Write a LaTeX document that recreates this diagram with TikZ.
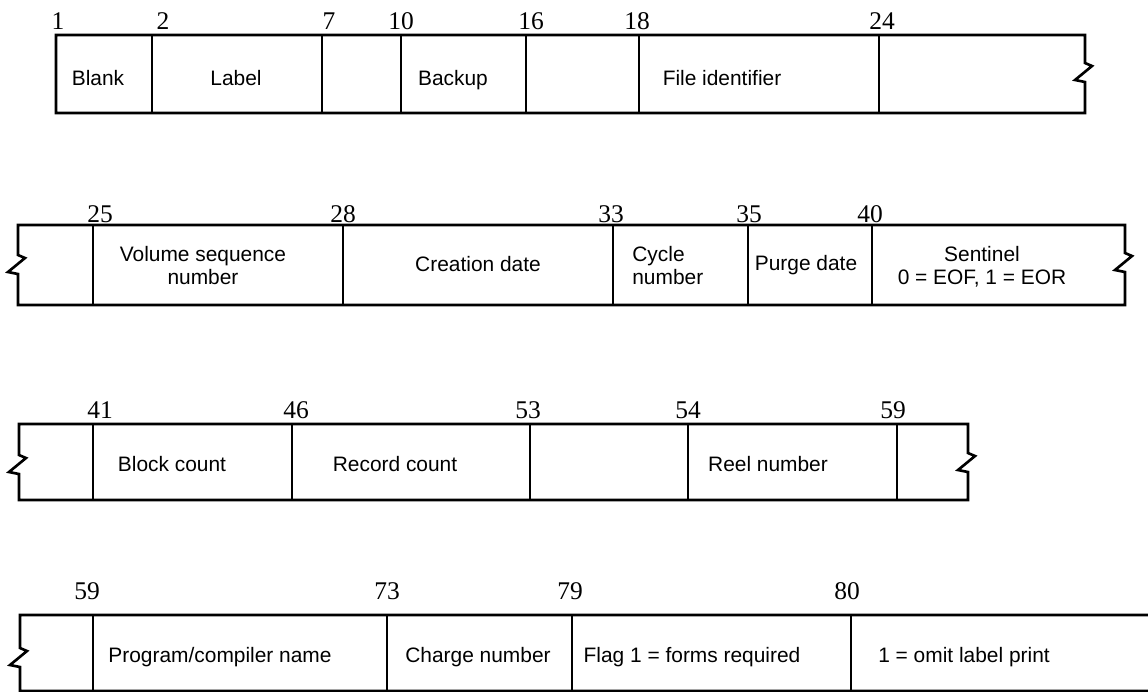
\documentclass[tikz,border=0pt]{standalone}
\usepackage{fontspec}
\setmainfont{Liberation Sans}
\newfontfamily\numfont{Liberation Serif}
\usepackage{tikz}
\usetikzlibrary{positioning}

\begin{document}
\begin{tikzpicture}[
  x=0.02cm, y=-0.02cm,
  outline/.style={line width=1.5pt, line join=miter},
  divider/.style={line width=1.2pt},
  field/.style={font=\fontsize{11.9}{13}\selectfont, align=center, inner sep=0pt, anchor=base},
  colnum/.style={font=\numfont\fontsize{14.5}{14.5}\selectfont, inner sep=0pt, anchor=base}
]
\useasboundingbox (0,0) rectangle (1148,691);

% row 1: columns 1--24
\draw[outline] (56,35) -- (1085,35) -- (1085,63) -- ++(7,3) -- ++(-17,14) -- ++(10,2)
  -- (1085,113) -- (56,113) -- cycle;
\foreach \x in {152,322,401,526,639,879}
  \draw[divider] (\x,35) -- (\x,113);
\foreach \x/\n in {58/1,163/2,329/7,401/10,531/16,637/18,882/24}
  \node[colnum] (ra\n) at (\x,29) {\n};
\node[field] (blank)  at (98,85)  {Blank};
\node[field] (label)  at (236,85) {Label};
\node[field] (backup) at (453,85) {Backup};
\node[field] (fileid) at (722,85) {File identifier};

% row 2: columns 25--40 (base = last line)
\draw[outline] (18,225) -- (1125,225) -- (1125,253) -- ++(7,3) -- ++(-17,14) -- ++(10,2)
  -- (1125,305) -- (18,305) -- (18,274) -- ++(-10,-2) -- ++(17,-14) -- ++(-7,-3) -- cycle;
\foreach \x in {93,343,613,748,872}
  \draw[divider] (\x,225) -- (\x,305);
\foreach \x/\n in {100/25,343/28,611/33,749/35,870/40}
  \node[colnum] (rb\n) at (\x,222) {\n};
\node[field] (volseq)   at (203,284) {Volume sequence\\number};
\node[field] (created)  at (478,271) {Creation date};
\node[field, align=left, anchor=base west] (cycle) at (632,284) {Cycle\\number};
\node[field] (purge)    at (806,270) {Purge date};
\node[field] (sentinel) at (982,284) {Sentinel\\0 = EOF, 1 = EOR};

% row 3: columns 41--59
\draw[outline] (19,424) -- (968,424) -- (968,453) -- ++(7,3) -- ++(-17,14) -- ++(10,2)
  -- (968,500) -- (19,500) -- (19,474) -- ++(-10,-2) -- ++(17,-14) -- ++(-7,-3) -- cycle;
\foreach \x in {93,292,530,688,897}
  \draw[divider] (\x,424) -- (\x,500);
\foreach \x/\n in {100/41,296/46,528/53,688/54,893/59}
  \node[colnum] (rc\n) at (\x,418) {\n};
\node[field] (blocks)  at (172,471) {Block count};
\node[field] (records) at (395,471) {Record count};
\node[field] (reel)    at (768,471) {Reel number};

% row 4: columns 59--80
\draw[outline] (1148,615) -- (20,615) -- (20,648) -- ++(7,3) -- ++(-17,14) -- ++(10,2)
  -- (20,691) -- (1148,691);
\foreach \x in {93,387,572,851}
  \draw[divider] (\x,615) -- (\x,691);
\foreach \x/\n in {87/59,387/73,570/79,847/80}
  \node[colnum] (rd\n) at (\x,599) {\n};
\node[field] (progname) at (220,662) {Program/compiler name};
\node[field] (charge)   at (478,662) {Charge number};
\node[field] (flag)     at (692,662) {Flag 1 = forms required};
\node[field] (omit)     at (964,662) {1 = omit label print};
\end{tikzpicture}
\end{document}
